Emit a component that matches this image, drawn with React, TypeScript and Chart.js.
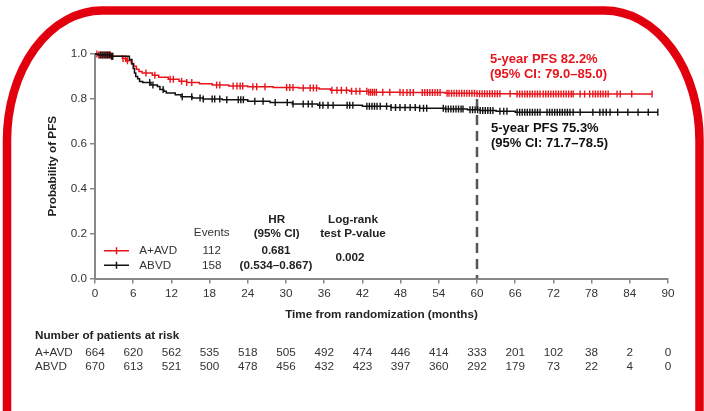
import { useEffect, useRef } from 'react';
import { Chart, registerables } from 'chart.js';
Chart.register(...registerables);

const FONT = '"Liberation Sans", Arial, Helvetica, sans-serif';
const RED = '#e8141c';
const FRAME = '#e2000f';
const BLACK = '#111111';

// x tick labels / risk table columns
const monthTicks = [0, 6, 12, 18, 24, 30, 36, 42, 48, 54, 60, 66, 72, 78, 84, 90];
const riskAVD = [664, 620, 562, 535, 518, 505, 492, 474, 446, 414, 333, 201, 102, 38, 2, 0];
const riskABVD = [670, 613, 521, 500, 478, 456, 432, 423, 397, 360, 292, 179, 73, 22, 4, 0];

// Kaplan-Meier step values (time in months, survival)
const avdTimes = [0, 0.5, 2.5, 4.3, 5.0, 5.7, 6.1, 6.5, 6.9, 7.4, 9.0, 10.0, 11.5, 13.2, 14.4, 16.4, 18.4, 21.0, 24.0, 28.0, 32.0, 35.2, 37.0, 40.0, 43.0, 48.0, 55.0, 60.0, 66.0];
const avdSurv = [1.0, 0.995, 0.99, 0.98, 0.97, 0.958, 0.945, 0.932, 0.922, 0.915, 0.905, 0.896, 0.887, 0.879, 0.873, 0.867, 0.862, 0.858, 0.854, 0.851, 0.848, 0.844, 0.838, 0.834, 0.83, 0.828, 0.825, 0.823, 0.822];
const avdEnd = 87.5;

const abvdTimes = [0, 0.5, 2.5, 5.4, 5.8, 6.0, 6.2, 6.4, 6.7, 7.0, 7.5, 8.8, 9.8, 10.2, 10.8, 11.2, 12.6, 13.5, 15.3, 17.0, 20.0, 24.0, 27.5, 31.0, 35.0, 42.0, 46.5, 51.0, 55.0, 58.5, 60.5, 63.0, 66.0];
const abvdSurv = [1.0, 0.995, 0.99, 0.975, 0.955, 0.935, 0.915, 0.9, 0.89, 0.878, 0.873, 0.862, 0.855, 0.842, 0.834, 0.826, 0.818, 0.81, 0.804, 0.8, 0.796, 0.79, 0.784, 0.777, 0.772, 0.767, 0.762, 0.758, 0.755, 0.752, 0.748, 0.745, 0.74];
const abvdEnd = 88.4;

// censoring marks (months)
const avdCensor = [0.3, 0.6, 0.9, 1.2, 1.5, 1.8, 2.1, 2.4, 2.7, 4.4, 4.8, 5.1, 8.0, 9.4, 11.8, 12.3, 13.6, 14.4, 15.2, 19.1, 19.6, 21.7, 22.3, 22.8, 23.2, 24.8, 25.4, 26.7, 30.1, 30.6, 31.1, 32.7, 33.8, 34.3, 34.8, 37.2, 38.0, 38.7, 39.5, 40.3, 41.0, 41.6, 42.7, 43.0, 43.3, 43.6, 43.9, 44.2, 45.2, 46.3, 47.9, 48.4, 49.0, 49.5, 50.0, 51.4, 51.8, 52.2, 52.6, 53.0, 53.4, 53.8, 54.2, 55.3, 55.6, 56.0, 56.4, 56.8, 57.2, 57.6, 58.0, 58.4, 58.8, 59.2, 59.6, 60.0, 60.4, 60.8, 61.2, 61.6, 62.0, 62.4, 62.8, 63.2, 63.6, 65.2, 66.3, 66.7, 67.1, 67.5, 67.9, 68.3, 68.7, 69.1, 69.5, 69.9, 70.4, 70.8, 71.2, 71.6, 72.0, 72.4, 72.8, 73.2, 73.6, 74.0, 74.4, 74.8, 75.1, 76.2, 76.9, 77.7, 78.2, 78.6, 79.0, 79.4, 79.8, 80.2, 80.6, 82.0, 82.5, 84.3, 87.5];
const abvdCensor = [0.8, 1.1, 1.4, 1.7, 2.0, 2.3, 2.6, 2.8, 8.6, 9.1, 10.7, 13.7, 15.2, 16.5, 17.0, 18.4, 18.8, 19.6, 20.7, 22.5, 22.9, 23.3, 25.1, 26.4, 28.3, 30.2, 31.1, 32.7, 33.5, 34.1, 35.3, 35.8, 36.6, 37.4, 39.6, 40.0, 40.5, 42.7, 43.1, 43.5, 43.9, 44.3, 44.8, 45.8, 46.5, 47.2, 47.9, 48.7, 49.5, 50.3, 51.0, 51.6, 52.1, 54.7, 55.1, 55.5, 55.9, 56.3, 56.7, 57.1, 57.5, 57.8, 58.9, 59.3, 59.7, 60.1, 60.5, 60.9, 61.3, 61.7, 62.1, 62.5, 63.6, 64.2, 64.7, 66.3, 66.7, 67.1, 67.5, 67.9, 68.3, 68.7, 69.1, 69.5, 69.9, 71.0, 71.4, 71.8, 72.2, 72.6, 73.0, 73.4, 73.8, 74.2, 74.6, 75.1, 76.2, 78.2, 79.3, 79.8, 80.3, 80.9, 82.1, 83.7, 85.3, 86.9, 88.4];

const landmark = 60;

function steps(times: number[], surv: number[], end: number) {
  const pts: { x: number; y: number }[] = [{ x: times[0], y: surv[0] }];
  for (let i = 1; i < times.length; i++) {
    pts.push({ x: times[i], y: surv[i - 1] });
    pts.push({ x: times[i], y: surv[i] });
  }
  pts.push({ x: end, y: surv[surv.length - 1] });
  return pts;
}
function survAt(times: number[], surv: number[], t: number) {
  let v = surv[0];
  for (let i = 0; i < times.length; i++) if (times[i] <= t) v = surv[i];
  return v;
}
function censorPts(c: number[], times: number[], surv: number[]) {
  return c.map((t) => ({ x: t, y: survAt(times, surv, t) }));
}

function txt(ctx: CanvasRenderingContext2D, s: string, x: number, y: number, o: { size?: number; bold?: boolean; color?: string; align?: CanvasTextAlign } = {}) {
  ctx.font = `${o.bold ? 'bold ' : ''}${o.size ?? 11.7}px ${FONT}`;
  ctx.fillStyle = o.color ?? '#222';
  ctx.textAlign = o.align ?? 'left';
  ctx.textBaseline = 'middle';
  ctx.fillText(s, x, y);
}

const decor = {
  id: 'decor',
  beforeDraw(chart: any) {
    const ctx: CanvasRenderingContext2D = chart.ctx;
    ctx.save();
    ctx.fillStyle = '#fff';
    ctx.fillRect(0, 0, chart.width, chart.height);
    // red rounded frame
    const L = 7, R = 699.5, T = 10.5, rx = 95, ry = 130;
    ctx.strokeStyle = FRAME;
    ctx.lineWidth = 8.5;
    ctx.beginPath();
    ctx.moveTo(L, 440);
    ctx.lineTo(L, T + ry);
    ctx.ellipse(L + rx, T + ry, rx, ry, 0, Math.PI, 1.5 * Math.PI);
    ctx.lineTo(R - rx, T);
    ctx.ellipse(R - rx, T + ry, rx, ry, 0, 1.5 * Math.PI, 2 * Math.PI);
    ctx.lineTo(R, 440);
    ctx.stroke();
    ctx.restore();
  },
  beforeDatasetsDraw(chart: any) {
    const ctx: CanvasRenderingContext2D = chart.ctx;
    const xs = chart.scales.x, ys = chart.scales.y;
    ctx.save();
    ctx.strokeStyle = '#555';
    ctx.lineWidth = 2.5;
    ctx.setLineDash([10, 6]);
    const x = xs.getPixelForValue(landmark);
    ctx.beginPath();
    ctx.moveTo(x, ys.getPixelForValue(0.8));
    ctx.lineTo(x, ys.getPixelForValue(0));
    ctx.stroke();
    ctx.restore();
  },
  afterDraw(chart: any) {
    const ctx: CanvasRenderingContext2D = chart.ctx;
    const xs = chart.scales.x, a = chart.chartArea;
    ctx.save();
    // axis titles
    txt(ctx, 'Time from randomization (months)', (a.left + a.right) / 2, 315, { bold: true, align: 'center' });
    ctx.save();
    ctx.translate(53, (a.top + a.bottom) / 2);
    ctx.rotate(-Math.PI / 2);
    txt(ctx, 'Probability of PFS', 0, 0, { bold: true, align: 'center' });
    ctx.restore();

    // 5-year annotations
    txt(ctx, '5-year PFS 82.2%', 490, 59, { bold: true, size: 13, color: RED });
    txt(ctx, '(95% CI: 79.0\u201385.0)', 490, 74, { bold: true, size: 13, color: RED });
    txt(ctx, '5-year PFS 75.3%', 491, 128, { bold: true, size: 13, color: '#111' });
    txt(ctx, '(95% CI: 71.7\u201378.5)', 491, 143, { bold: true, size: 13, color: '#111' });

    // legend / stats table
    txt(ctx, 'Events', 211.7, 233, { align: 'center', color: '#333' });
    txt(ctx, 'HR', 276.7, 219.5, { bold: true, align: 'center' });
    txt(ctx, '(95% CI)', 276.7, 234, { bold: true, align: 'center' });
    txt(ctx, 'Log-rank', 353, 219.5, { bold: true, align: 'center' });
    txt(ctx, 'test P-value', 353, 234, { bold: true, align: 'center' });
    const rows = [
      { c: RED, y: 250.7, name: 'A+AVD', ev: '112', hr: '0.681' },
      { c: BLACK, y: 265.3, name: 'ABVD', ev: '158', hr: '(0.534\u20130.867)' },
    ];
    for (const r of rows) {
      ctx.strokeStyle = r.c;
      ctx.lineWidth = 1.5;
      ctx.beginPath();
      ctx.moveTo(104, r.y);
      ctx.lineTo(129, r.y);
      ctx.moveTo(116.5, r.y - 3.5);
      ctx.lineTo(116.5, r.y + 3.5);
      ctx.stroke();
      txt(ctx, r.name, 139.3, r.y, { color: '#333' });
      txt(ctx, r.ev, 211.7, r.y, { align: 'center', color: '#333' });
      txt(ctx, r.hr, 276, r.y, { bold: true, align: 'center' });
    }
    txt(ctx, '0.002', 350, 258, { bold: true, align: 'center' });

    // number at risk
    txt(ctx, 'Number of patients at risk', 35, 336, { bold: true });
    txt(ctx, 'A+AVD', 35, 352.5, { color: '#333' });
    txt(ctx, 'ABVD', 35, 366.5, { color: '#333' });
    monthTicks.forEach((m, i) => {
      const x = xs.getPixelForValue(m);
      txt(ctx, String(riskAVD[i]), x, 352.5, { align: 'center', color: '#333' });
      txt(ctx, String(riskABVD[i]), x, 366.5, { align: 'center', color: '#333' });
    });
    ctx.restore();
  },
};

export default function App() {
  const ref = useRef<HTMLCanvasElement>(null);
  useEffect(() => {
    const censorStyle = (c: string) => ({
      showLine: false,
      pointStyle: 'line' as const,
      pointRotation: 90,
      pointRadius: 3.5,
      pointBorderWidth: 1.4,
      pointBorderColor: c,
      pointBackgroundColor: c,
      borderColor: c,
      clip: 10,
    });
    const chart = new Chart(ref.current!, {
      type: 'line',
      data: {
        datasets: [
          { label: 'A+AVD', data: steps(avdTimes, avdSurv, avdEnd), borderColor: RED, borderWidth: 1.5, pointRadius: 0, fill: false, tension: 0, clip: 10, order: 2 },
          { label: 'A+AVD censored', data: censorPts(avdCensor, avdTimes, avdSurv), ...censorStyle(RED), order: 2 },
          { label: 'ABVD', data: steps(abvdTimes, abvdSurv, abvdEnd), borderColor: BLACK, borderWidth: 1.5, pointRadius: 0, fill: false, tension: 0, clip: 10, order: 1 },
          { label: 'ABVD censored', data: censorPts(abvdCensor, abvdTimes, abvdSurv), ...censorStyle(BLACK), order: 1 },
        ] as any,
      },
      options: {
        responsive: false,
        animation: false,
        devicePixelRatio: 1,
        layout: { padding: { top: 54, right: 36, left: 0, bottom: 0 } },
        plugins: { legend: { display: false }, tooltip: { enabled: false } },
        events: [],
        scales: {
          x: {
            type: 'linear',
            min: 0,
            max: 90,
            afterFit: (s: any) => { s.height = 132.5; },
            ticks: { stepSize: 6, color: '#333', font: { family: FONT, size: 11.7 }, padding: 3, maxRotation: 0 },
            grid: { display: true, drawOnChartArea: false, drawTicks: true, tickLength: 5, color: '#888', lineWidth: 1.5 },
            border: { display: true, color: '#888', width: 2 },
          },
          y: {
            type: 'linear',
            min: 0,
            max: 1,
            afterFit: (s: any) => { s.width = 95; },
            ticks: { stepSize: 0.2, color: '#333', font: { family: FONT, size: 11.7 }, padding: 3, callback: (v: any) => Number(v).toFixed(1) },
            grid: { display: true, drawOnChartArea: false, drawTicks: true, tickLength: 5, color: '#888', lineWidth: 1.5 },
            border: { display: true, color: '#888', width: 2 },
          },
        },
      } as any,
      plugins: [decor],
    });
    return () => chart.destroy();
  }, []);
  return (
    <div style={{ position: 'fixed', left: 0, top: 0, width: 704, height: 411, background: '#fff' }}>
      <canvas ref={ref} width={704} height={411} style={{ display: 'block' }} />
    </div>
  );
}
